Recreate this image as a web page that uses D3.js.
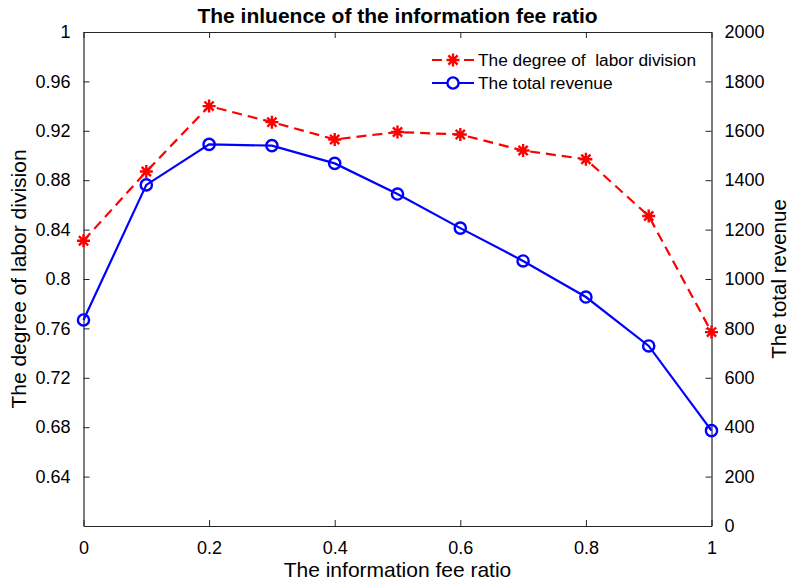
<!DOCTYPE html>
<html>
<head>
<meta charset="utf-8">
<script src="https://cdn.jsdelivr.net/npm/d3@7"></script>
<style>
  body { margin: 0; background: #fff; }
  svg text { font-family: "Liberation Sans", Arial, Helvetica, sans-serif; fill: #000; }
</style>
</head>
<body>
<div id="chart"></div>
<script>
// data
const feeRatio = [0, 0.1, 0.2, 0.3, 0.4, 0.5, 0.6, 0.7, 0.8, 0.9, 1];
const laborDivision = [0.831, 0.887, 0.940, 0.927, 0.913, 0.919, 0.917, 0.904, 0.897, 0.851, 0.757];
const totalRevenue = [834, 1381, 1545, 1540, 1468, 1344, 1206, 1073, 927, 729, 386];
const xTicks = [0, 0.2, 0.4, 0.6, 0.8, 1];
const yLeftTicks = [0.64, 0.68, 0.72, 0.76, 0.8, 0.84, 0.88, 0.92, 0.96, 1];
const yRightTicks = [0, 200, 400, 600, 800, 1000, 1200, 1400, 1600, 1800, 2000];

const width = 791, height = 585;
const m = { left: 83.5, right: 791 - 711.5, top: 32, bottom: 585 - 526 };

const svg = d3.select("#chart").append("svg")
    .attr("width", width).attr("height", height);

// Scales
const x = d3.scaleLinear().domain([0, 1]).range([m.left, width - m.right]);
const yL = d3.scaleLinear().domain([0.6, 1]).range([height - m.bottom, m.top]);
const yR = d3.scaleLinear().domain([0, 2000]).range([height - m.bottom, m.top]);

// Axes (MATLAB style: ticks inside, box on)
const tickLen = 6;
const fmt = d => d3.format("")(+d.toFixed(2));
const axisStyle = g => {
    g.selectAll("path.domain").attr("stroke", "#262626").attr("stroke-width", 1.2);
    g.selectAll(".tick line").attr("stroke", "#262626");
    g.selectAll(".tick text").attr("font-size", 18).attr("fill", "#000");
};

svg.append("g")
    .attr("transform", `translate(0,${height - m.bottom})`)
    .call(d3.axisBottom(x).tickValues(xTicks).tickSize(-tickLen).tickPadding(15)
        .tickFormat(fmt).tickSizeOuter(0))
    .call(axisStyle);

svg.append("g")
    .attr("transform", `translate(0,${m.top})`)
    .call(d3.axisTop(x).tickValues(xTicks).tickSize(-tickLen).tickFormat("").tickSizeOuter(0))
    .call(axisStyle);

svg.append("g")
    .attr("transform", `translate(${m.left},0)`)
    .call(d3.axisLeft(yL).tickValues(yLeftTicks).tickSize(-tickLen).tickPadding(13)
        .tickFormat(fmt).tickSizeOuter(0))
    .call(axisStyle);

svg.append("g")
    .attr("transform", `translate(${width - m.right},0)`)
    .call(d3.axisRight(yR).tickValues(yRightTicks).tickSize(-tickLen).tickPadding(13)
        .tickFormat(fmt).tickSizeOuter(0))
    .call(axisStyle);

// Lines
const pts = feeRatio.map((f, i) => ({ f, a: laborDivision[i], b: totalRevenue[i] }));

svg.append("path")
    .datum(pts)
    .attr("fill", "none")
    .attr("stroke", "#ff0000")
    .attr("stroke-width", 2.2)
    .attr("stroke-dasharray", "10,6")
    .attr("d", d3.line().x(d => x(d.f)).y(d => yL(d.a)));

svg.append("path")
    .datum(pts)
    .attr("fill", "none")
    .attr("stroke", "#0000ff")
    .attr("stroke-width", 2.2)
    .attr("d", d3.line().x(d => x(d.f)).y(d => yR(d.b)));

// Markers
const star = (g, s) => {
    const r = s / 2, k = r * Math.SQRT1_2;
    g.append("path")
        .attr("d", `M${-r},0L${r},0M0,${-r}L0,${r}M${-k},${-k}L${k},${k}M${-k},${k}L${k},${-k}`)
        .attr("stroke", "#ff0000").attr("stroke-width", 2.4).attr("fill", "none");
};

svg.append("g").selectAll("g")
    .data(pts)
    .join("g")
    .attr("transform", d => `translate(${x(d.f)},${yL(d.a)})`)
    .each(function () { star(d3.select(this), 13); });

svg.append("g").selectAll("circle")
    .data(pts)
    .join("circle")
    .attr("cx", d => x(d.f))
    .attr("cy", d => yR(d.b))
    .attr("r", 5.6)
    .attr("fill", "none")
    .attr("stroke", "#0000ff")
    .attr("stroke-width", 2.4);

// Legend
const legend = svg.append("g").attr("transform", "translate(432,60)");
const legendItems = [
    { label: "The degree of  labor division", color: "#ff0000", dash: "10,6", mark: "star" },
    { label: "The total revenue", color: "#0000ff", dash: null, mark: "circle" }
];
legendItems.forEach((it, i) => {
    const g = legend.append("g").attr("transform", `translate(0,${i * 23})`);
    g.append("line")
        .attr("x1", 0).attr("x2", 42).attr("y1", 0).attr("y2", 0)
        .attr("stroke", it.color).attr("stroke-width", 2.2)
        .attr("stroke-dasharray", it.dash);
    const mg = g.append("g").attr("transform", "translate(21,0)");
    if (it.mark === "star") star(mg, 13);
    else mg.append("circle").attr("r", 5.6).attr("fill", "#fff")
        .attr("stroke", it.color).attr("stroke-width", 2.4);
    g.append("text")
        .attr("x", 46).attr("y", 6)
        .attr("font-size", 17.3)
        .style("white-space", "pre")
        .attr("xml:space", "preserve")
        .text(it.label);
});

// Titles
svg.append("text")
    .attr("x", (m.left + width - m.right) / 2).attr("y", 23)
    .attr("text-anchor", "middle")
    .attr("font-size", 21).attr("font-weight", "bold")
    .text("The inluence of the information fee ratio");

svg.append("text")
    .attr("x", (m.left + width - m.right) / 2).attr("y", 577)
    .attr("text-anchor", "middle")
    .attr("font-size", 21)
    .text("The information fee ratio");

svg.append("text")
    .attr("transform", `translate(26,${(m.top + height - m.bottom) / 2}) rotate(-90)`)
    .attr("text-anchor", "middle")
    .attr("font-size", 21)
    .text("The degree of labor division");

svg.append("text")
    .attr("transform", `translate(786,${(m.top + height - m.bottom) / 2}) rotate(-90)`)
    .attr("text-anchor", "middle")
    .attr("font-size", 20.5)
    .text("The total revenue");
</script>
</body>
</html>
